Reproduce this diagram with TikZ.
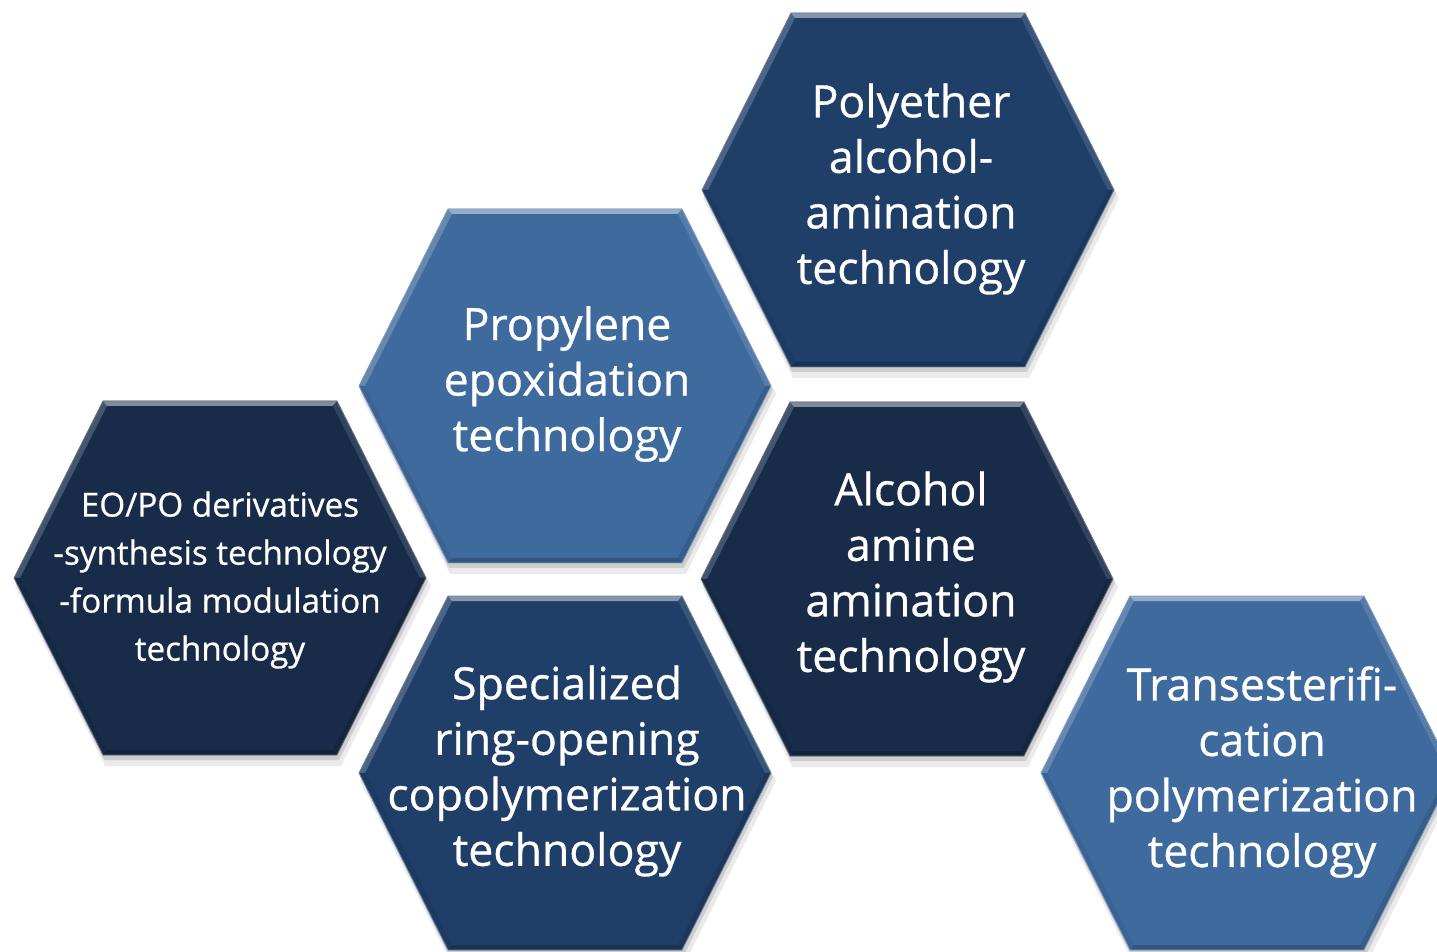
\documentclass[tikz,border=0pt]{standalone}
\usepackage{fontspec}
\setmainfont{Open Sans}
\newfontfamily\hexfont{Open Sans}[FakeBold=0.7]

\definecolor{hexlight}{RGB}{63,106,157}
\definecolor{hexmid}{RGB}{31,62,104}
\definecolor{hexdark}{RGB}{24,43,72}

\begin{document}
\begin{tikzpicture}[x = 0.5pt, y = -0.5pt,
    hextext/.style = {text = white, align = center, inner sep = 0pt,
        font = \hexfont\fontsize{22.3}{27.75}\selectfont},
    smalltext/.style = {text = white, align = center, inner sep = 0pt,
        font = \hexfont\fontsize{16.6}{24}\selectfont},
    pics/hexcell/.style = {code = {
        \fill[black, opacity = 0.08] (-205,8) -- (-115,-170) -- (121,-170) -- (211,8) -- (121,188) -- (-115,188) -- cycle;
        \fill[black, opacity = 0.12] (-205,4) -- (-116,-174) -- (119,-174) -- (208,4) -- (119,182) -- (-116,182) -- cycle;
        \fill[#1] (-206,0) -- (-117,-177) -- (117,-177) -- (206,0) -- (117,177) -- (-117,177) -- cycle;
        \fill[#1!80!white] (-206,0) -- (-117,-177) -- (-113,-172) -- (-200,0) -- cycle;
        \fill[#1!55!white] (-117,-177) -- (117,-177) -- (113,-172) -- (-113,-172) -- cycle;
        \fill[#1!88!white] (117,-177) -- (206,0) -- (200,0) -- (113,-172) -- cycle;
        \fill[#1!88!black] (206,0) -- (117,177) -- (113,172) -- (200,0) -- cycle;
        \fill[#1!80!black] (117,177) -- (-117,177) -- (-113,172) -- (113,172) -- cycle;
        \fill[#1!94!black] (-117,177) -- (-206,0) -- (-200,0) -- (-113,172) -- cycle;
        \draw[#1!65!white, line width = 0.4pt] (-206,0) -- (-117,-177) -- (117,-177) -- (206,0) -- (117,177) -- (-117,177) -- cycle;
    }}]
        \clip (0,0) rectangle (1437,952);

        \pic at (220,578) {hexcell = hexdark};
        \pic at (565,386) {hexcell = hexlight};
        \pic at (908,190) {hexcell = hexmid};
        \pic at (907,579) {hexcell = hexdark};
        \pic at (565,773) {hexcell = hexmid};
        \pic at (1247,773) {hexcell = hexlight};

        \node[smalltext] (eopo) at (220,580)
            {EO/PO derivatives\\-synthesis technology\\-formula modulation\\technology};
        \node[hextext] (propylene) at (567,384)
            {Propylene\\epoxidation\\technology};
        \node[hextext] (polyether) at (911,189)
            {Polyether\\alcohol-\\amination\\technology};
        \node[hextext] (alcohol) at (911,577)
            {Alcohol\\amine\\amination\\technology};
        \node[hextext] (ringopen) at (567,771)
            {Specialized\\ring-opening\\copolymerization\\technology};
        \node[hextext] (transest) at (1262,772)
            {Transesterifi-\\cation\\polymerization\\technology};
    \end{tikzpicture}
\end{document}
